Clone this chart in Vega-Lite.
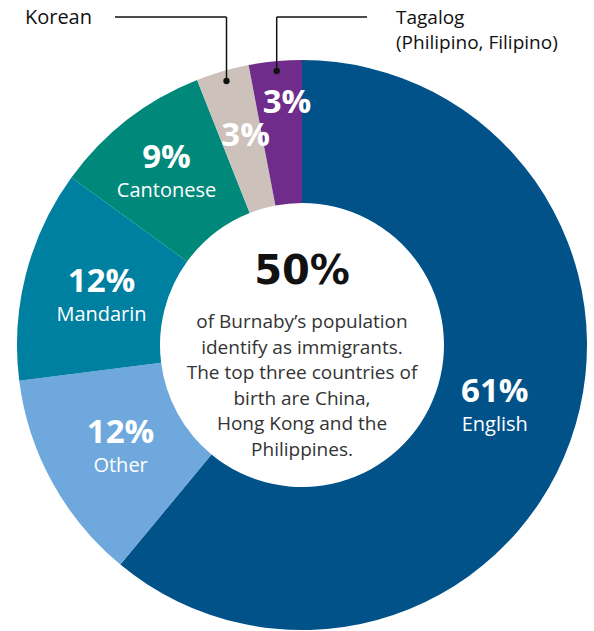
{
  "$schema": "https://vega.github.io/schema/vega-lite/v6.json",
  "width": 584,
  "height": 572,
  "padding": {"left": 10, "top": 59, "right": 0, "bottom": 0},
  "autosize": {"type": "none"},
  "background": "white",
  "config": {"view": {"stroke": null}, "text": {"font": "Open Sans"}},
  "layer": [
    {
      "data": {
        "values": [
          {"language": "English", "pct": 0.61, "rank": 1},
          {"language": "Other", "pct": 0.12, "rank": 2},
          {"language": "Mandarin", "pct": 0.12, "rank": 3},
          {"language": "Cantonese", "pct": 0.09, "rank": 4},
          {"language": "Korean", "pct": 0.03, "rank": 5},
          {"language": "Tagalog", "pct": 0.03, "rank": 6}
        ]
      },
      "encoding": {
        "theta": {"field": "pct", "type": "quantitative", "stack": true},
        "order": {"field": "rank", "type": "quantitative"},
        "detail": {"field": "language", "type": "nominal"}
      },
      "layer": [
        {
          "mark": {"type": "arc", "outerRadius": 285, "innerRadius": 142},
          "encoding": {
            "color": {
              "field": "language",
              "type": "nominal",
              "legend": null,
              "scale": {
                "domain": ["English", "Other", "Mandarin", "Cantonese", "Korean", "Tagalog"],
                "range": ["#02528a", "#6ea8dc", "#0080a0", "#00897b", "#cdc2bb", "#702c8a"]
              }
            }
          }
        },
        {
          "mark": {"type": "text", "radius": 207, "dy": -2, "baseline": "alphabetic", "align": "center", "fontWeight": "bold", "fontSize": 33, "color": "white"},
          "encoding": {"text": {"condition": {"test": "datum.language === 'Other' || datum.language === 'Mandarin'", "field": "pct", "type": "quantitative", "format": ".0%"}, "value": ""}}
        },
        {
          "mark": {"type": "text", "radius": 207, "dy": 27, "baseline": "alphabetic", "align": "center", "fontSize": 20, "color": "white"},
          "encoding": {"text": {"condition": {"test": "datum.language === 'Other' || datum.language === 'Mandarin'", "field": "language", "type": "nominal"}, "value": ""}}
        },
        {
          "mark": {"type": "text", "radius": 207, "dy": -13, "dx": -2, "baseline": "alphabetic", "align": "center", "fontWeight": "bold", "fontSize": 33, "color": "white"},
          "encoding": {"text": {"condition": {"test": "datum.language === 'English'", "field": "pct", "type": "quantitative", "format": ".0%"}, "value": ""}}
        },
        {
          "mark": {"type": "text", "radius": 207, "dy": 16, "dx": -2, "baseline": "alphabetic", "align": "center", "fontSize": 20, "color": "white"},
          "encoding": {"text": {"condition": {"test": "datum.language === 'English'", "field": "language", "type": "nominal"}, "value": ""}}
        },
        {
          "mark": {"type": "text", "radius": 221, "dy": -2, "baseline": "alphabetic", "align": "center", "fontWeight": "bold", "fontSize": 33, "color": "white"},
          "encoding": {"text": {"condition": {"test": "datum.language === 'Cantonese'", "field": "pct", "type": "quantitative", "format": ".0%"}, "value": ""}}
        },
        {
          "mark": {"type": "text", "radius": 221, "dy": 27, "baseline": "alphabetic", "align": "center", "fontSize": 20, "color": "white"},
          "encoding": {"text": {"condition": {"test": "datum.language === 'Cantonese'", "field": "language", "type": "nominal"}, "value": ""}}
        },
        {
          "mark": {"type": "text", "radius": 220, "dy": 12, "dx": 5, "baseline": "alphabetic", "align": "center", "fontWeight": "bold", "fontSize": 33, "color": "white"},
          "encoding": {"text": {"condition": {"test": "datum.language === 'Korean'", "field": "pct", "type": "quantitative", "format": ".0%"}, "value": ""}}
        },
        {
          "mark": {"type": "text", "radius": 245, "dy": 12, "dx": 8, "baseline": "alphabetic", "align": "center", "fontWeight": "bold", "fontSize": 33, "color": "white"},
          "encoding": {"text": {"condition": {"test": "datum.language === 'Tagalog'", "field": "pct", "type": "quantitative", "format": ".0%"}, "value": ""}}
        }
      ]
    },
    {
      "data": {"values": [{}]},
      "mark": {"type": "text", "font": "DejaVu Sans", "fontWeight": "bold", "fontSize": 40, "color": "#111111", "baseline": "alphabetic", "align": "center", "dy": -61},
      "encoding": {"text": {"value": "50%"}}
    },
    {
      "data": {"values": [{}]},
      "mark": {"type": "text", "fontSize": 19, "color": "#333333", "baseline": "alphabetic", "align": "center", "dy": -17, "lineHeight": 25.6},
      "encoding": {"text": {"value": ["of Burnaby’s population", "identify as immigrants.", "The top three countries of", "birth are China,", "Hong Kong and the", "Philippines."]}}
    },
    {
      "data": {"values": [{}]},
      "mark": {"type": "rule", "color": "#111111", "strokeWidth": 1.5},
      "encoding": {
        "x": {"datum": -187, "type": "quantitative", "axis": null, "scale": {"domain": [-292, 292], "nice": false, "zero": false}},
        "x2": {"datum": -75.5},
        "y": {"datum": 328, "type": "quantitative", "axis": null, "scale": {"domain": [-286, 286], "nice": false, "zero": false}}
      }
    },
    {
      "data": {"values": [{}]},
      "mark": {"type": "rule", "color": "#111111", "strokeWidth": 1.5},
      "encoding": {
        "x": {"datum": -75.5, "type": "quantitative", "axis": null, "scale": {"domain": [-292, 292], "nice": false, "zero": false}},
        "y": {"datum": 328, "type": "quantitative", "axis": null, "scale": {"domain": [-286, 286], "nice": false, "zero": false}},
        "y2": {"datum": 264}
      }
    },
    {
      "data": {"values": [{}]},
      "mark": {"type": "rule", "color": "#111111", "strokeWidth": 1.5},
      "encoding": {
        "x": {"datum": -25.3, "type": "quantitative", "axis": null, "scale": {"domain": [-292, 292], "nice": false, "zero": false}},
        "x2": {"datum": 65},
        "y": {"datum": 328, "type": "quantitative", "axis": null, "scale": {"domain": [-286, 286], "nice": false, "zero": false}}
      }
    },
    {
      "data": {"values": [{}]},
      "mark": {"type": "rule", "color": "#111111", "strokeWidth": 1.5},
      "encoding": {
        "x": {"datum": -25.3, "type": "quantitative", "axis": null, "scale": {"domain": [-292, 292], "nice": false, "zero": false}},
        "y": {"datum": 328, "type": "quantitative", "axis": null, "scale": {"domain": [-286, 286], "nice": false, "zero": false}},
        "y2": {"datum": 274}
      }
    },
    {
      "data": {"values": [{}]},
      "mark": {"type": "point", "filled": true, "color": "#111111", "opacity": 1, "size": 40},
      "encoding": {
        "x": {"datum": -75.5, "type": "quantitative", "axis": null, "scale": {"domain": [-292, 292], "nice": false, "zero": false}},
        "y": {"datum": 264, "type": "quantitative", "axis": null, "scale": {"domain": [-286, 286], "nice": false, "zero": false}}
      }
    },
    {
      "data": {"values": [{}]},
      "mark": {"type": "point", "filled": true, "color": "#111111", "opacity": 1, "size": 40},
      "encoding": {
        "x": {"datum": -25.3, "type": "quantitative", "axis": null, "scale": {"domain": [-292, 292], "nice": false, "zero": false}},
        "y": {"datum": 274, "type": "quantitative", "axis": null, "scale": {"domain": [-286, 286], "nice": false, "zero": false}}
      }
    },
    {
      "data": {"values": [{}]},
      "mark": {"type": "text", "fontSize": 20, "color": "#111111", "align": "right", "baseline": "alphabetic"},
      "encoding": {
        "x": {"datum": -210, "type": "quantitative", "axis": null, "scale": {"domain": [-292, 292], "nice": false, "zero": false}},
        "y": {"datum": 321, "type": "quantitative", "axis": null, "scale": {"domain": [-286, 286], "nice": false, "zero": false}},
        "text": {"value": "Korean"}
      }
    },
    {
      "data": {"values": [{}]},
      "mark": {"type": "text", "fontSize": 19, "color": "#111111", "align": "left", "baseline": "alphabetic", "lineHeight": 25},
      "encoding": {
        "x": {"datum": 94, "type": "quantitative", "axis": null, "scale": {"domain": [-292, 292], "nice": false, "zero": false}},
        "y": {"datum": 321, "type": "quantitative", "axis": null, "scale": {"domain": [-286, 286], "nice": false, "zero": false}},
        "text": {"value": ["Tagalog", "(Philipino, Filipino)"]}
      }
    }
  ]
}
